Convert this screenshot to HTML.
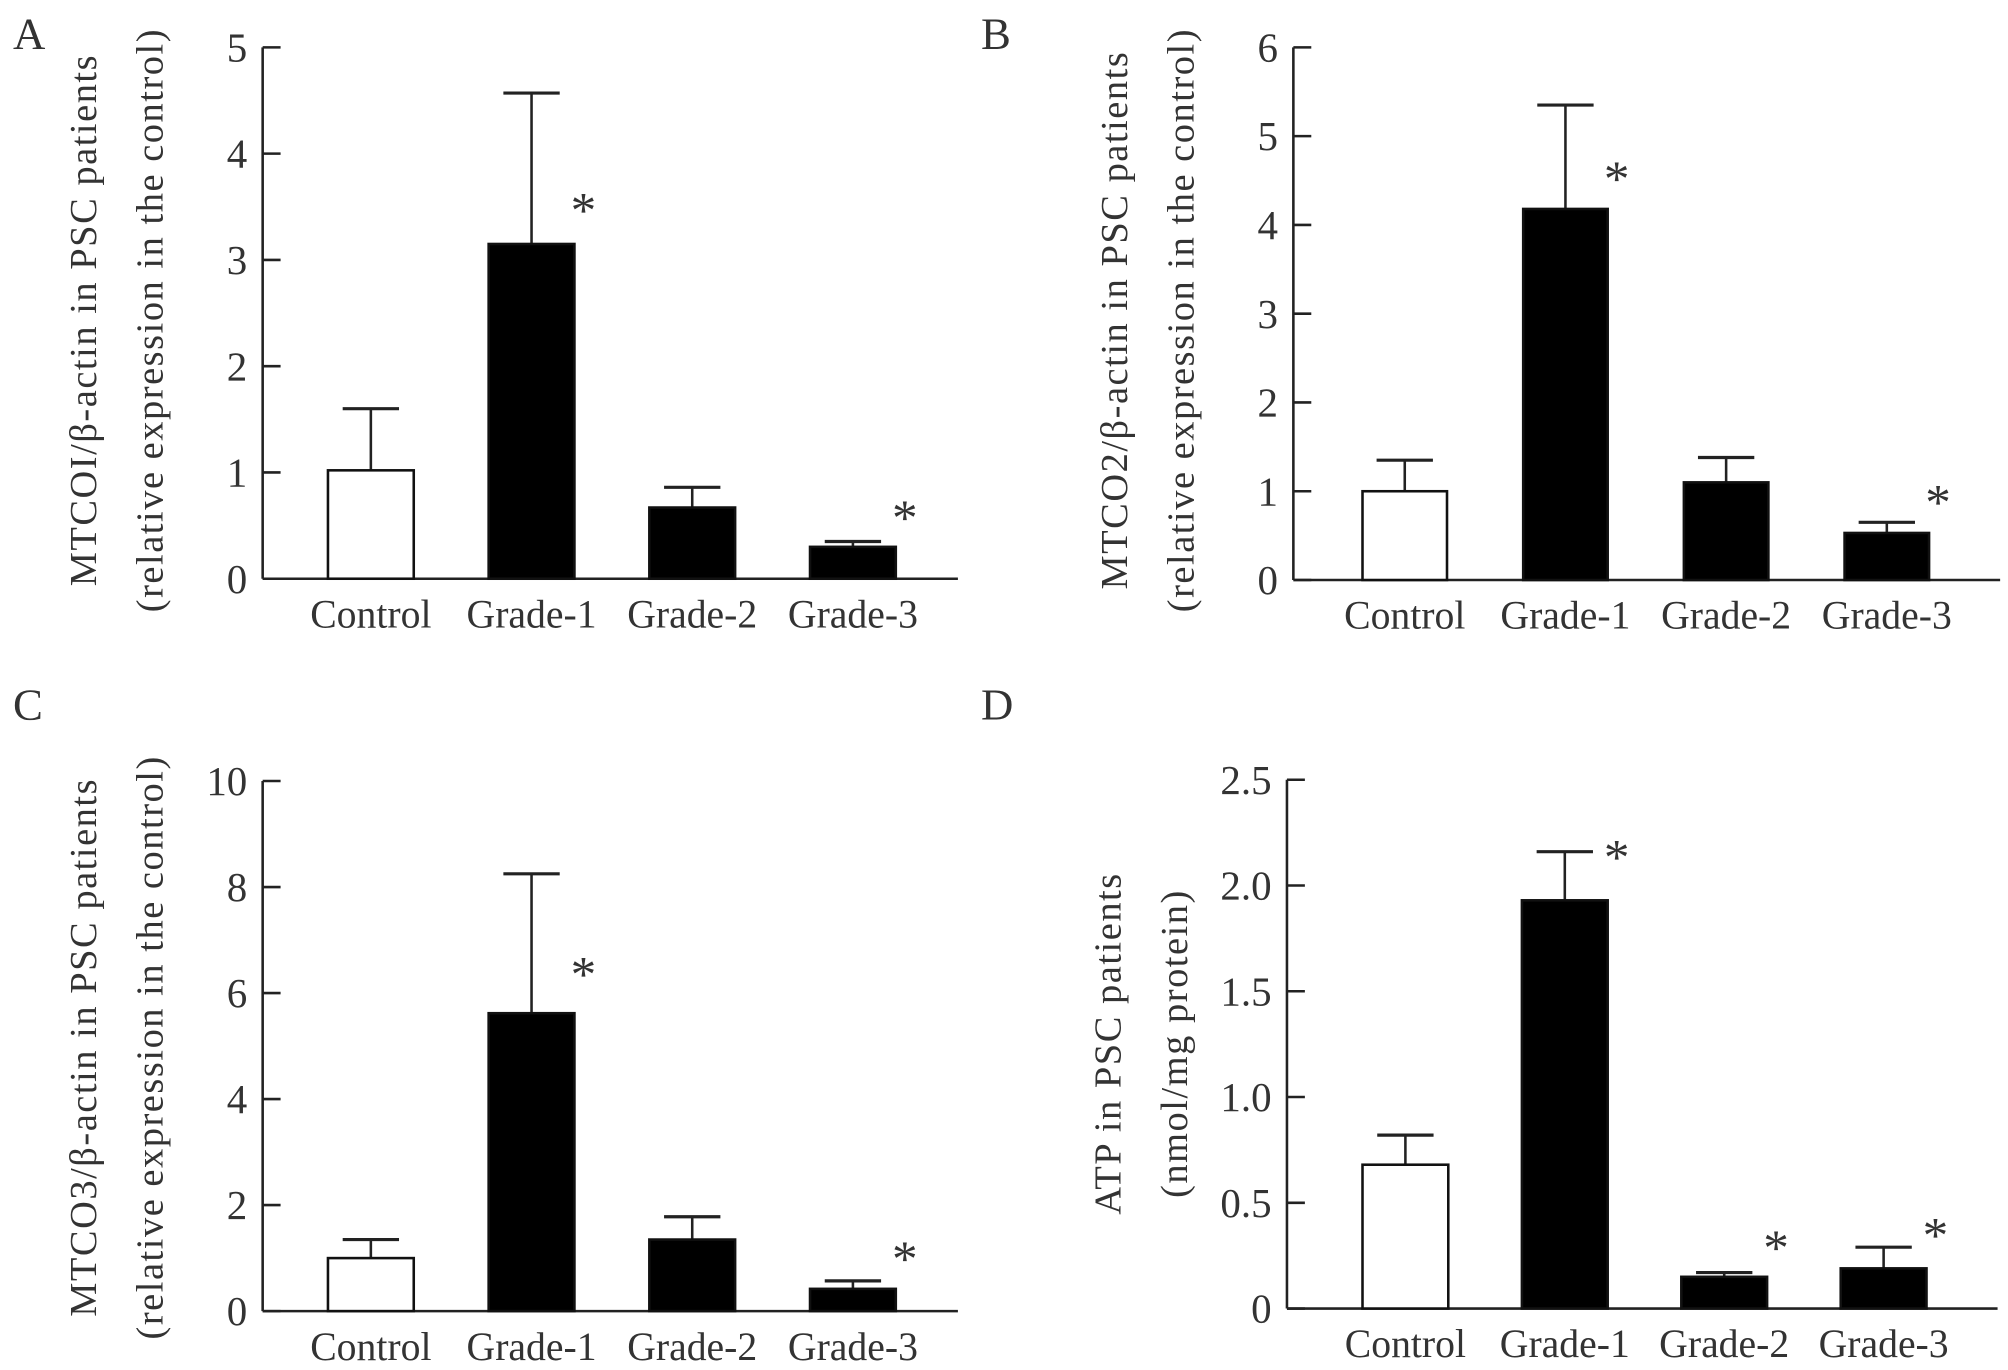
<!DOCTYPE html>
<html><head><meta charset="utf-8"><style>
html,body{margin:0;padding:0;background:#fff;}
svg{display:block;font-family:"Liberation Serif",serif;}
</style></head><body>
<svg id="fig" width="2008" height="1370" viewBox="0 0 1568 1070" xmlns="http://www.w3.org/2000/svg"></svg>
<script>
const categories = ["Control","Grade-1","Grade-2","Grade-3"];
const valuesA = [1.02, 3.15, 0.67, 0.30];
const errTopA = [1.60, 4.57, 0.86, 0.35];
const starsA = [false, true, false, true];
const ticksA = ["0","1","2","3","4","5"];
const valuesB = [1.00, 4.18, 1.10, 0.53];
const errTopB = [1.35, 5.35, 1.38, 0.65];
const starsB = [false, true, false, true];
const ticksB = ["0","1","2","3","4","5","6"];
const valuesC = [1.00, 5.62, 1.35, 0.42];
const errTopC = [1.35, 8.25, 1.78, 0.57];
const starsC = [false, true, false, true];
const ticksC = ["0","2","4","6","8","10"];
const valuesD = [0.68, 1.93, 0.15, 0.19];
const errTopD = [0.82, 2.16, 0.17, 0.29];
const starsD = [false, true, true, true];
const ticksD = ["0","0.5","1.0","1.5","2.0","2.5"];

const NS = "http://www.w3.org/2000/svg";
const svg = document.getElementById("fig");
function mk(tag, attrs, parent, text){
  const e = document.createElementNS(NS, tag);
  for (const k in attrs) e.setAttribute(k, attrs[k]);
  if (text !== undefined) e.textContent = text;
  (parent||svg).appendChild(e);
  return e;
}
const TXT = "#333";

function panel(cfg){
  const g = mk("g", {});
  
  
  const yMax = parseFloat(cfg.ticks[cfg.ticks.length-1]);
  const y = v => cfg.y0 - (v / yMax) * (cfg.y0 - cfg.yTop);
  const bx = i => cfg.bx0 + i * cfg.step;
  const L = mk("text", {x: cfg.lx, y: cfg.ly, "font-size": 35, fill: TXT}, g, cfg.letter);
  
  
  const tx1 = cfg.ax - 137, tx2 = cfg.ax - 85;
  const cy = cfg.titleY;
  const t1 = mk("text", {x: tx1, y: cy, "font-size": 30, "letter-spacing": 1.2, fill: TXT, "text-anchor": "middle", transform: `rotate(-90 ${tx1} ${cy})`, "dominant-baseline": "middle"}, g, cfg.title1);
  
  
  const t2 = mk("text", {x: tx2, y: cy, "font-size": 30, "letter-spacing": 1.2, fill: TXT, "text-anchor": "middle", transform: `rotate(-90 ${tx2} ${cy})`, "dominant-baseline": "middle"}, g, cfg.title2);
  
  
  const ya = mk("line", {x1: cfg.ax, y1: cfg.yTop, x2: cfg.ax, y2: cfg.y0, stroke: "#222", "stroke-width": 2}, g);
  
  
  const xa = mk("line", {x1: cfg.ax, y1: cfg.y0, x2: cfg.axEnd, y2: cfg.y0, stroke: "#222", "stroke-width": 2}, g);
  
  
  cfg.ticks.forEach(t => {
    const yy = y(parseFloat(t));
    const tk = mk("line", {x1: cfg.ax, y1: yy, x2: cfg.ax + 14, y2: yy, stroke: "#222", "stroke-width": 2}, g);
    
    
    const tl = mk("text", {x: cfg.ax - 12, y: yy + 11, "font-size": 32, fill: TXT, "text-anchor": "end"}, g, t);
    
    
  });
  categories.forEach((c, i) => {
    const x = bx(i), w = cfg.bw, v = cfg.values[i], e = cfg.err[i];
    const cx = x + w/2;
    const el = mk("line", {x1: cx, y1: y(v), x2: cx, y2: y(e), stroke: "#222", "stroke-width": 2}, g);
    
    
    const ec = mk("line", {x1: cx - 22, y1: y(e), x2: cx + 22, y2: y(e), stroke: "#222", "stroke-width": 2.5}, g);
    
    
    const r = mk("rect", {x: x, y: y(v), width: w, height: cfg.y0 - y(v), fill: i === 0 ? "#fff" : "#000", stroke: "#111", "stroke-width": 2}, g);
    
    
    const cl = mk("text", {x: cx, y: cfg.y0 + 38, "font-size": 31, fill: TXT, "text-anchor": "middle"}, g, c);
    
    
    if (cfg.stars[i]) {
      const s = mk("text", {x: x + w + 7, y: y(e) + cfg.starDy[i], "font-size": 40, fill: TXT, "text-anchor": "middle"}, g, "*");
      
      
    }
  });
}

panel({name:"panel-a", letter:"A", lx:10, ly:38, ax:205, axEnd:748, yTop:37, y0:452, bx0:256, step:125.5, bw:67,
  ticks:ticksA, values:valuesA, err:errTopA, stars:starsA, starDy:[0,105,0,-5], titleY:250,
  title1:"MTCOI/β-actin in PSC patients", title2:"(relative expression in the control)"});
panel({name:"panel-b", letter:"B", lx:766, ly:38, ax:1010, axEnd:1562, yTop:37, y0:453, bx0:1064, step:125.5, bw:66,
  ticks:ticksB, values:valuesB, err:errTopB, stars:starsB, starDy:[0,71,0,-2], titleY:250,
  title1:"MTCO2/β-actin in PSC patients", title2:"(relative expression in the control)"});
panel({name:"panel-c", letter:"C", lx:10, ly:562, ax:205, axEnd:748, yTop:610, y0:1024, bx0:256, step:125.5, bw:67,
  ticks:ticksC, values:valuesC, err:errTopC, stars:starsC, starDy:[0,92,0,-4], titleY:818,
  title1:"MTCO3/β-actin in PSC patients", title2:"(relative expression in the control)"});
panel({name:"panel-d", letter:"D", lx:766, ly:562, ax:1005, axEnd:1560, yTop:609, y0:1022, bx0:1064, step:124.5, bw:67,
  ticks:ticksD, values:valuesD, err:errTopD, stars:starsD, starDy:[0,18,-6,4], titleY:815,
  title1:"ATP in PSC patients", title2:"(nmol/mg protein)"});
</script>
</body></html>
